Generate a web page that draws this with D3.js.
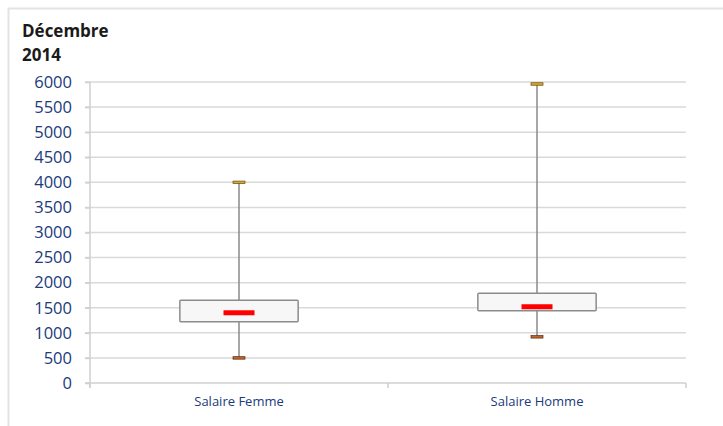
<!DOCTYPE html>
<html>
<head>
<meta charset="utf-8">
<script src="https://cdn.jsdelivr.net/npm/d3@7"></script>
<style>
  html, body { margin: 0; padding: 0; background: #fff; }
  svg { display: block; }
</style>
</head>
<body>
<svg id="chart" width="723" height="426"></svg>
<script>
// ---- data ----
const categories = ["Salaire Femme", "Salaire Homme"];
const minValues    = [500, 920];
const q1Values     = [1220, 1440];
const medianValues = [1400, 1520];
const q3Values     = [1650, 1790];
const maxValues    = [4000, 5960];
const yTicks = [0, 500, 1000, 1500, 2000, 2500, 3000, 3500, 4000, 4500, 5000, 5500, 6000];
const titleLines = ["Décembre", "2014"];

(function () {
// ---- layout ----
const svg = d3.select("#chart");
const pLeft = 90, pRight = 686, pTop = 82, pBottom = 383;
const font = "'Open Sans', 'Liberation Sans', sans-serif";
const blue = "#203a7c";

// outer frame (top + left edges)
svg.append("path")
  .attr("d", "M8.5,426 L8.5,8.5 L723,8.5")
  .attr("fill", "none").attr("stroke", "#e3e3e3").attr("stroke-width", 2);

const y = d3.scaleLinear().domain([0, 6000]).range([pBottom, pTop]);
const x = d3.scaleBand().domain(categories).range([pLeft, pRight]).padding(0);

// gridlines
svg.append("g").selectAll("line").data(yTicks.filter(d => d > 0)).join("line")
  .attr("x1", pLeft - 5).attr("x2", pRight)
  .attr("y1", d => y(d)).attr("y2", d => y(d))
  .attr("stroke", "#d9d9d9").attr("stroke-width", 1.5);

// y axis
const yAxis = svg.append("g").attr("transform", `translate(${pLeft},0)`)
  .call(d3.axisLeft(y).tickValues(yTicks).tickSize(5).tickPadding(13).tickFormat(d3.format("d")));
yAxis.select(".domain").attr("stroke", "#cfcfcf").attr("stroke-width", 1.5)
  .attr("d", `M0,${pTop}V${pBottom + 5}`);
yAxis.selectAll(".tick line").attr("stroke", "#cfcfcf").attr("stroke-width", 1.5);
yAxis.selectAll(".tick text").attr("fill", blue).attr("font-family", font).attr("font-size", 16.5);

// x axis
const xAxis = svg.append("g").attr("transform", `translate(0,${pBottom})`)
  .call(d3.axisBottom(x).tickSize(0).tickPadding(14));
xAxis.select(".domain").attr("stroke", "#cfcfcf").attr("stroke-width", 1.5)
  .attr("d", `M${pLeft - 5},0H${pRight}`);
xAxis.selectAll(".tick text").attr("fill", blue).attr("font-family", font).attr("font-size", 13);
// band boundary ticks
const bounds = [x.range()[0], ...categories.map(c => x(c) + x.bandwidth())];
xAxis.append("g").selectAll("line").data(bounds).join("line")
  .attr("x1", d => d).attr("x2", d => d).attr("y1", 0).attr("y2", 5)
  .attr("stroke", "#cfcfcf").attr("stroke-width", 1.5);

// boxes
const data = categories.map((c, i) => ({
  c, min: minValues[i], q1: q1Values[i], med: medianValues[i], q3: q3Values[i], max: maxValues[i]
}));
const boxW = x.bandwidth() * 0.397;
const medW = 31, capW = 12;
const g = svg.append("g").selectAll("g").data(data).join("g")
  .attr("transform", d => `translate(${x(d.c) + x.bandwidth() / 2},0)`);

// whiskers
g.append("line").attr("x1", 0).attr("x2", 0)
  .attr("y1", d => y(d.max)).attr("y2", d => y(d.min))
  .attr("stroke", "#8a8a8a").attr("stroke-width", 1.5);

// box
g.append("rect")
  .attr("x", -boxW / 2).attr("width", boxW)
  .attr("y", d => y(d.q3)).attr("height", d => y(d.q1) - y(d.q3))
  .attr("fill", "#f7f7f7").attr("stroke", "#8c8c8c").attr("stroke-width", 1.5).attr("rx", 1);

// median
g.append("rect")
  .attr("x", -medW / 2).attr("width", medW)
  .attr("y", d => y(d.med) - 2.5).attr("height", 5)
  .attr("fill", "#ff0000");

// caps
g.append("rect")
  .attr("x", -capW / 2).attr("width", capW)
  .attr("y", d => y(d.max) - 1.25).attr("height", 2.5)
  .attr("fill", "#d8a828").attr("stroke", "#6a4a10").attr("stroke-width", 0.7);
g.append("rect")
  .attr("x", -capW / 2).attr("width", capW)
  .attr("y", d => y(d.min) - 1.25).attr("height", 2.5)
  .attr("fill", "#c0652a").attr("stroke", "#5a2a10").attr("stroke-width", 0.7);

// title
svg.append("text").attr("x", 22).attr("y", 37)
  .attr("font-family", font).attr("font-weight", "bold").attr("font-size", 17).attr("fill", "#1a1a1a")
  .selectAll("tspan").data(titleLines).join("tspan")
  .attr("x", 22).attr("dy", (d, i) => i === 0 ? 0 : 24).text(d => d);
})();
</script>
</body>
</html>
